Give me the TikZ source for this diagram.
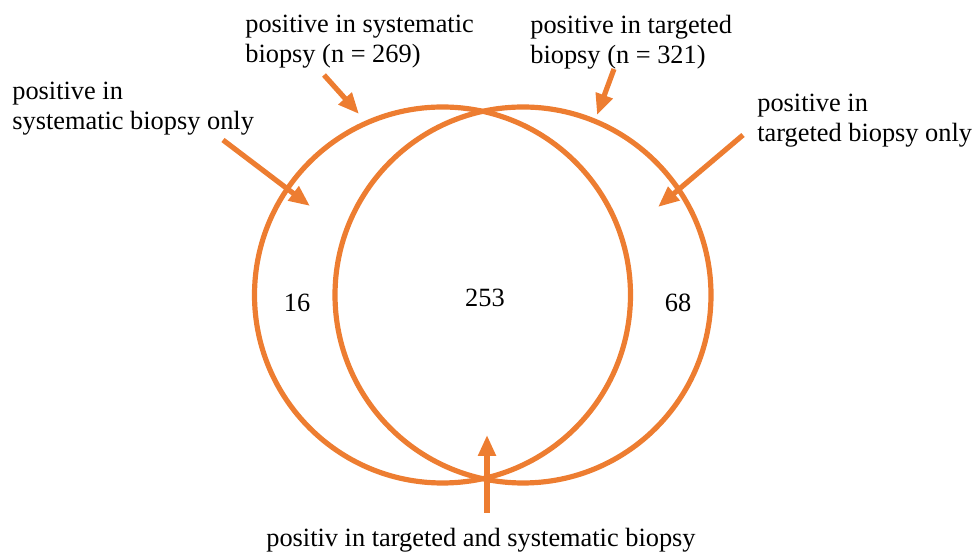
\documentclass[tikz,border=0pt]{standalone}
\usepackage{fontspec}
\setmainfont{Liberation Serif}
\usetikzlibrary{arrows.meta}
\definecolor{vennorange}{HTML}{ED7D31}
\tikzset{
  venn/.style={line width=2.95pt, draw=vennorange},
  pfeil/.style={line width=2.95pt, draw=vennorange, -{Triangle[length=0.42cm,width=0.34cm]}},
  beschrift/.style={inner sep=0pt, align=left, anchor=north west},
  zahl/.style={inner sep=0pt, anchor=base}
}
\begin{document}
\begin{tikzpicture}
\useasboundingbox (0,0) rectangle (19.46,11.12);
\pgfmathsetmacro{\rvenn}{3.76};

\begin{scope}[font=\fontsize{15}{17.1}\selectfont]
\coordinate (msys) at (8.85,5.22);
\coordinate (mtarg) at (10.46,5.22);
\draw[venn] (msys) circle [radius=\rvenn];
\draw[venn] (mtarg) circle [radius=\rvenn];

\node[zahl] (nsys) at (5.94,4.88) {16};
\node[zahl] (nboth) at (9.70,4.98) {253};
\node[zahl] (ntarg) at (13.56,4.88) {68};

\node[beschrift] (sysonly) at (0.24,9.48) {positive in\\systematic biopsy only};
\node[beschrift] (sysall) at (4.90,10.82) {positive in systematic\\biopsy (n = 269)};
\node[beschrift] (targall) at (10.60,10.82) {positive in targeted\\biopsy (n = 321)};
\node[beschrift] (targonly) at (15.14,9.24) {positive in\\targeted biopsy only};
\node[zahl] (both) at (9.62,0.18) {positiv in targeted and systematic biopsy};

\coordinate (sysonly-a) at (4.46,8.32);
\coordinate (sysonly-b) at (6.20,7.00);
\coordinate (sysall-a) at (6.48,9.62);
\coordinate (sysall-b) at (7.18,8.84);
\coordinate (targall-a) at (12.28,9.74);
\coordinate (targall-b) at (11.94,8.82);
\coordinate (targonly-a) at (14.86,8.42);
\coordinate (targonly-b) at (13.16,6.98);
\coordinate (both-a) at (9.74,0.86);
\coordinate (both-b) at (9.74,2.42);

\draw[pfeil] (sysonly-a) -- (sysonly-b);
\draw[pfeil] (sysall-a) -- (sysall-b);
\draw[pfeil] (targall-a) -- (targall-b);
\draw[pfeil] (targonly-a) -- (targonly-b);
\draw[pfeil] (both-a) -- (both-b);
\end{scope}
\end{tikzpicture}
\end{document}
